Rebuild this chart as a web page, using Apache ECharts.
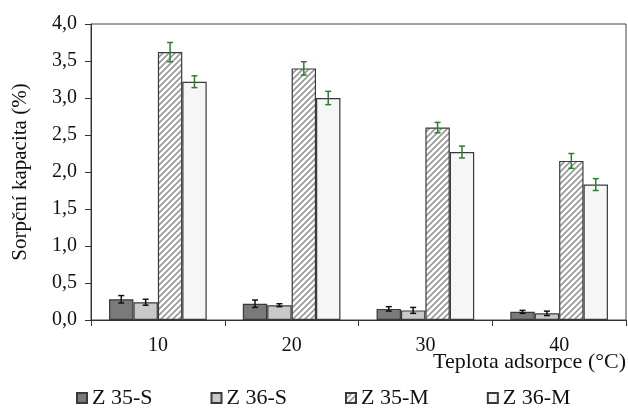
<!DOCTYPE html>
<html>
<head>
<meta charset="utf-8">
<script src="https://cdn.jsdelivr.net/npm/echarts@6/dist/echarts.min.js"></script>
<style>html,body{margin:0;padding:0;background:#fff}#c{width:628px;height:412px}</style>
</head>
<body>
<div id="c"></div>
<script>
const categories = ['10', '20', '30', '40'];
const seriesNames = ['Z 35-S', 'Z 36-S', 'Z 35-M', 'Z 36-M'];
const z35S = [0.28, 0.22, 0.15, 0.11];
const z36S = [0.24, 0.20, 0.13, 0.09];
const z35M = [3.62, 3.40, 2.60, 2.15];
const z36M = [3.22, 3.00, 2.27, 1.83];
const z35SErr = [0.05, 0.05, 0.03, 0.02];
const z36SErr = [0.04, 0.02, 0.04, 0.03];
const z35MErr = [0.13, 0.09, 0.07, 0.10];
const z36MErr = [0.08, 0.09, 0.08, 0.08];
const yTicks = [0, 0.5, 1, 1.5, 2, 2.5, 3, 3.5, 4];

const values = [z35S, z36S, z35M, z36M];
const errs = [z35SErr, z36SErr, z35MErr, z36MErr];
const errColors = ['#111', '#111', '#2f7d2f', '#2f7d2f'];

// hatch pattern
const pc = document.createElement('canvas');
const s = 6;
pc.width = s; pc.height = s;
const ctx = pc.getContext('2d');
ctx.fillStyle = '#ffffff';
ctx.fillRect(0, 0, s, s);
ctx.strokeStyle = '#9a9a9a';
ctx.lineWidth = 1.7;
ctx.beginPath();
ctx.moveTo(0, s); ctx.lineTo(s, 0);
ctx.moveTo(-1, 1); ctx.lineTo(1, -1);
ctx.moveTo(s - 1, s + 1); ctx.lineTo(s + 1, s - 1);
ctx.stroke();

const fills = ['#7a7a7a', '#c9c9c9', {image: pc, repeat: 'repeat'}, '#f6f6f6'];
const CAT_GAP = 0.27;
const FONT = 'Liberation Serif';

const series = [];
seriesNames.forEach((n, i) => {
  series.push({
    name: n, type: 'bar', data: values[i],
    barGap: '0%', barCategoryGap: (CAT_GAP * 100) + '%',
    itemStyle: {color: fills[i], borderColor: '#3a3a3a', borderWidth: 1.2},
    emphasis: {disabled: true}
  });
});
seriesNames.forEach((n, i) => {
  series.push({
    name: 'err' + i, type: 'custom', z: 5,
    data: values[i].map((v, k) => [k, v, errs[i][k]]),
    encode: {x: 0, y: 1},
    renderItem: function (params, api) {
      const x = api.value(0), v = api.value(1), e = api.value(2);
      const band = api.size([1, 0])[0];
      const bw = band * (1 - CAT_GAP) / 4;
      const off = (i - 1.5) * bw;
      const hi = api.coord([x, v + e]);
      const lo = api.coord([x, v - e]);
      const cx = hi[0] + off;
      const cap = 3;
      const st = {stroke: errColors[i], lineWidth: 1.5};
      return {
        type: 'group',
        children: [
          {type: 'line', shape: {x1: cx, y1: hi[1], x2: cx, y2: lo[1]}, style: st},
          {type: 'line', shape: {x1: cx - cap, y1: hi[1], x2: cx + cap, y2: hi[1]}, style: st},
          {type: 'line', shape: {x1: cx - cap, y1: lo[1], x2: cx + cap, y2: lo[1]}, style: st}
        ]
      };
    }
  });
});

const chart = echarts.init(document.getElementById('c'), null, {renderer: 'canvas'});
chart.setOption({
  animation: false,
  backgroundColor: '#fff',
  textStyle: {fontFamily: FONT},
  grid: {left: 91, right: 2, top: 24, bottom: 92, show: true, borderColor: '#444', borderWidth: 1},
  legend: {
    data: seriesNames, bottom: -2, left: 71,
    itemWidth: 10, itemHeight: 10, itemGap: 58,
    textStyle: {fontFamily: FONT, fontSize: 22, color: '#111'},
    icon: 'rect', selectedMode: false
  },
  graphic: [{
    type: 'text', right: 2, top: 351,
    style: {text: 'Teplota adsorpce (°C)', font: '22px "Liberation Serif"', fill: '#111'}
  }],
  xAxis: {
    type: 'category', data: categories,
    axisLine: {lineStyle: {color: '#333', width: 1}},
    axisTick: {show: true, length: 6, lineStyle: {color: '#333'}},
    axisLabel: {fontFamily: FONT, fontSize: 20, color: '#111', margin: 16}
  },
  yAxis: {
    type: 'value', min: 0, max: 4, interval: 0.5,
    name: 'Sorpční kapacita (%)', nameLocation: 'middle', nameGap: 60,
    nameTextStyle: {fontFamily: FONT, fontSize: 21, color: '#111'},
    axisLine: {show: true, lineStyle: {color: '#333', width: 1}},
    axisTick: {show: true, length: 6, lineStyle: {color: '#333'}},
    splitLine: {show: false},
    axisLabel: {fontFamily: FONT, fontSize: 20, color: '#111', margin: 14,
      formatter: v => yTicks.includes(v) ? v.toFixed(1).replace('.', ',') : ''}
  },
  series: series
});
</script>
</body>
</html>
